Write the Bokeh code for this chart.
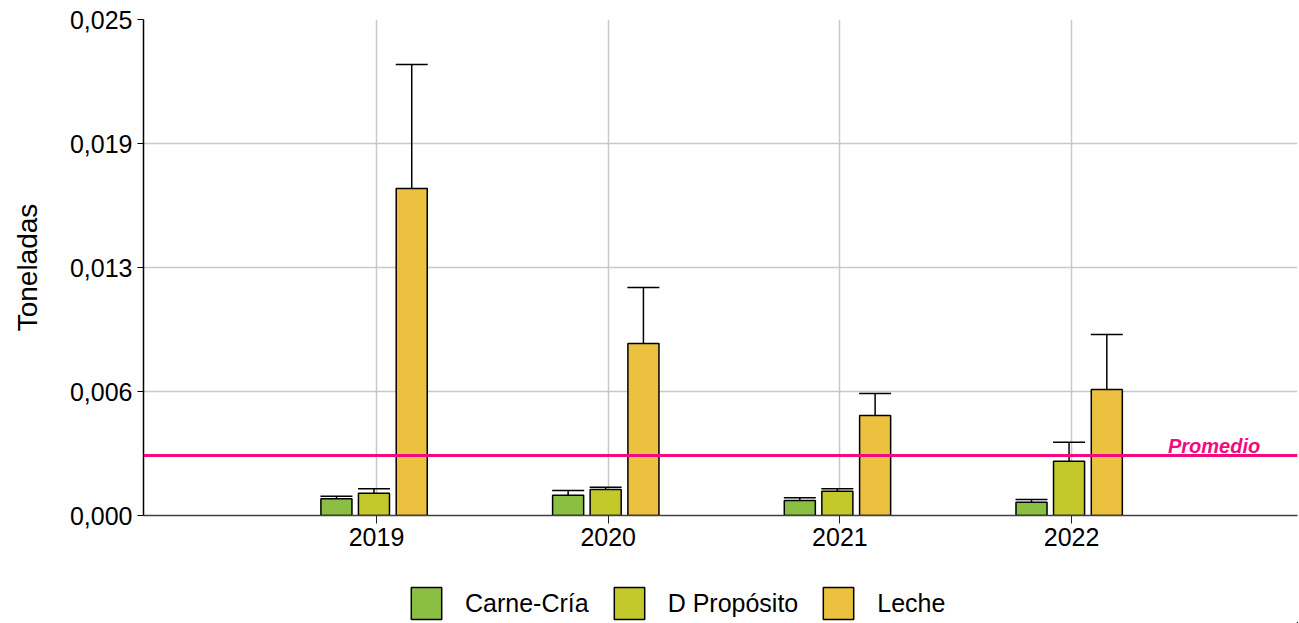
from bokeh.plotting import figure
from bokeh.layouts import column
from bokeh.models import (ColumnDataSource, Range1d, FixedTicker, CustomJSTickFormatter,
                          Whisker, TeeHead, Span, Label, Legend, LegendItem)
from bokeh.transform import dodge
from bokeh.embed import file_html
from bokeh.resources import INLINE

years = ["2019", "2020", "2021", "2022"]
x_pos = [1, 2, 3, 4]
carne = [0.00084, 0.00102, 0.00076, 0.00067]
carne_up = [0.00097, 0.00126, 0.00089, 0.00081]
dprop = [0.00112, 0.00131, 0.00122, 0.00274]
dprop_up = [0.00135, 0.00143, 0.00135, 0.00369]
leche = [0.01648, 0.00867, 0.00504, 0.00635]
leche_up = [0.02273, 0.01149, 0.00615, 0.00912]
promedio = 0.00302
y_ticks = [0, 0.00625, 0.0125, 0.01875, 0.025]

series = [
    ("Carne-Cría", carne, carne_up, "#8bbf44", -0.173),
    ("D Propósito", dprop, dprop_up, "#c3c92b", -0.011),
    ("Leche", leche, leche_up, "#ebc13f", 0.152),
]

FONT = "Liberation Sans"
PINK = "#f20a80"

p = figure(width=1299, height=560, output_backend="svg", toolbar_location=None,
           x_range=Range1d(-0.0057, 4.975), y_range=Range1d(0, 0.025),
           min_border_left=143, min_border_top=19, min_border_right=2, min_border_bottom=45)
p.outline_line_color = None
p.background_fill_color = "white"

# grid
p.xgrid.ticker = FixedTicker(ticks=x_pos)
p.ygrid.ticker = FixedTicker(ticks=y_ticks)
p.xgrid.grid_line_color = "#c8c8c8"
p.ygrid.grid_line_color = "#c8c8c8"
p.xgrid.grid_line_width = 1.5
p.ygrid.grid_line_width = 1.5

# axes
p.xaxis.ticker = FixedTicker(ticks=x_pos)
p.xaxis.major_label_overrides = {i: y for i, y in zip(x_pos, years)}
p.xaxis.minor_tick_line_color = None
p.xaxis.major_tick_in = 0
p.xaxis.major_tick_out = 8
p.xaxis.major_tick_line_color = "#222222"
p.xaxis.axis_line_color = "#404040"
p.xaxis.axis_line_width = 1.5
p.xaxis.major_label_text_font = FONT
p.xaxis.major_label_text_font_size = "25px"
p.xaxis.major_label_text_color = "black"
p.xaxis.major_label_standoff = 4

p.yaxis.ticker = FixedTicker(ticks=y_ticks)
p.yaxis.formatter = CustomJSTickFormatter(code="return tick.toFixed(3).replace('.', ',');")
p.yaxis.minor_tick_line_color = None
p.yaxis.major_tick_in = 0
p.yaxis.major_tick_out = 6
p.yaxis.major_tick_line_color = "black"
p.yaxis.axis_line_color = "black"
p.yaxis.axis_line_width = 1.5
p.yaxis.major_label_text_font = FONT
p.yaxis.major_label_text_font_size = "25px"
p.yaxis.major_label_text_color = "black"
p.yaxis.major_label_standoff = 5
p.yaxis.axis_label = "Toneladas"
p.yaxis.axis_label_text_font = FONT
p.yaxis.axis_label_text_font_size = "28px"
p.yaxis.axis_label_text_font_style = "normal"
p.yaxis.axis_label_text_color = "black"
p.yaxis.axis_label_standoff = 24

# promedio line
p.add_layout(Span(location=promedio, dimension="width", line_color=PINK, line_width=3))

sources = []
for name, vals, ups, color, off in series:
    src = ColumnDataSource(dict(x=x_pos, v=vals, up=ups))
    sources.append(src)
    p.vbar(x=dodge("x", off, range=p.x_range), top="v", bottom=0, width=0.134, source=src,
           fill_color=color, line_color="black", line_width=1.5)
    w = Whisker(base=dodge("x", off, range=p.x_range), lower="v", upper="up", source=src,
                line_color="black", line_width=1.5,
                upper_head=TeeHead(size=32, line_color="black", line_width=1.5), lower_head=None)
    p.add_layout(w)

p.add_layout(Label(x=4.615, y=promedio, y_offset=10, text="Promedio", text_align="center",
                   text_baseline="alphabetic", text_color=PINK, text_font=FONT,
                   text_font_size="20px", text_font_style="bold italic"))

# legend strip below the chart (its bars lie outside its own view; only the legend shows)
pl = figure(width=1299, height=63, output_backend="svg", toolbar_location=None,
            x_axis_type=None, y_axis_type=None,
            x_range=Range1d(-3, -2), y_range=Range1d(0, 1),
            min_border_left=0, min_border_right=0, min_border_top=0, min_border_bottom=0)
pl.grid.visible = False
pl.outline_line_color = None
items = []
for (name, vals, ups, color, off), src in zip(series, sources):
    r = pl.vbar(x="x", top="v", bottom=0, width=0.1, source=src,
                fill_color=color, line_color="black", line_width=1.5)
    items.append(LegendItem(label=name, renderers=[r]))

legend = Legend(items=items, orientation="horizontal", location=(264, 0),
                glyph_width=38, glyph_height=40, label_text_font=FONT,
                label_text_font_size="25px", label_text_color="black",
                label_standoff=20, spacing=21, border_line_color=None,
                background_fill_alpha=0, margin=0, padding=0)
pl.add_layout(legend, "center")

open("out.html", "w").write(file_html(column(p, pl, spacing=0), INLINE))
